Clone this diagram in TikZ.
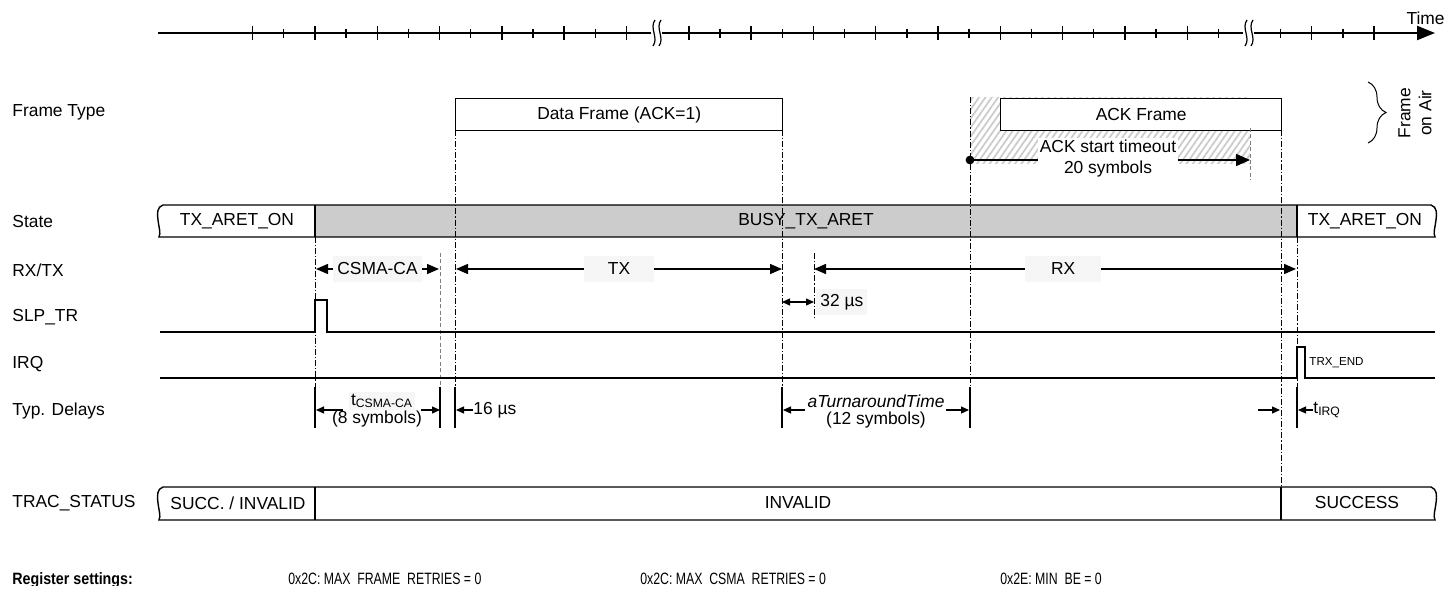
\documentclass[tikz,border=0pt]{standalone}
\usepackage{fontspec}
\setmainfont{Liberation Sans}
\usetikzlibrary{arrows.meta,patterns.meta,decorations.pathreplacing}

\tikzset{
  sig/.style={line width=0.7pt},
  bar/.style={line width=0.7pt},
  framebox/.style={draw, line width=0.7pt, fill=white, minimum height=16pt, anchor=north west, inner sep=0pt},
  guideline/.style={line width=0.4pt, dash pattern=on 3pt off 1pt on 0.6pt off 1pt},
  grayguide/.style={line width=0.5pt, gray, dash pattern=on 2pt off 1.2pt},
  tickline/.style={line width=0.7pt},
  spanarrow/.style={line width=0.7pt, <->},
  smallarrow/.style={line width=0.6pt, -{Triangle[length=4pt,width=3.5pt]}},
  tagbox/.style={fill=gray!7, inner sep=2pt, minimum height=13pt},
  rowname/.style={anchor=west, inner sep=0pt},
  regtext/.style={anchor=base west, inner sep=0pt, font=\fontsize{8.2}{9.8}\selectfont},
}

\begin{document}
\begin{tikzpicture}[x=0.5pt, y=-0.5pt, font=\fontsize{8.7}{10.5}\selectfont,
    >={Triangle[length=6pt,width=5pt]}]
  \useasboundingbox (0,0) rectangle (1451,589);

  % time axis
  \draw[line width=1.2pt, -{Triangle[length=9pt,width=7pt]}] (158,33) -- (1435,33);
  \foreach \tx in {252.6,314.9,...,627} \draw[tickline] (\tx,26) -- (\tx,40);
  \foreach \tx in {283.75,346.05,...,596} \draw[tickline] (\tx,28.5) -- (\tx,37.5);
  \foreach \tx in {688.8,751.1,...,1188} \draw[tickline] (\tx,26) -- (\tx,40);
  \foreach \tx in {719.95,782.25,...,1219} \draw[tickline] (\tx,28.5) -- (\tx,37.5);
  \foreach \tx in {1311.6,1373.9} \draw[tickline] (\tx,26) -- (\tx,40);
  \foreach \tx in {1280.5,1342.8} \draw[tickline] (\tx,28.5) -- (\tx,37.5);
  \foreach \bx in {657,1249} {
    \fill[white] (\bx-6,25) rectangle (\bx+5,41);
    \draw[line width=0.6pt] (\bx-2,20) .. controls (\bx-8,28) and (\bx+2,38) .. (\bx-4,46);
    \draw[line width=0.6pt] (\bx+4,20) .. controls (\bx-2,28) and (\bx+8,38) .. (\bx+2,46);
  }
  \node[anchor=south east, inner sep=1pt] (time) at (1447,27) {Time};

  % row names
  \node[rowname] (ftype) at (12,112) {Frame Type};
  \node[rowname] (state) at (12,222) {State};
  \node[rowname] (rxtx) at (12,270) {RX/TX};
  \node[rowname] (slptr) at (12,317) {SLP\_TR};
  \node[rowname] (irq) at (12,364) {IRQ};
  \node[rowname] (delays) at (12,411) {Typ. Delays};
  \node[rowname] (trac) at (12,503) {TRAC\_STATUS};

  % frames on air
  \fill[pattern={Lines[angle=55,distance=2.6pt,line width=0.9pt]}, pattern color=gray!40]
    (970,97) rectangle (1250,163);
  \node[framebox, minimum width=163.5pt] (dataf) at (455,98) {Data Frame (ACK=1)};
  \node[framebox, minimum width=140.5pt] (ackf) at (1000,98) {ACK Frame};
  \coordinate (tmoS) at (970,160);
  \coordinate (tmoE) at (1250,160);
  \draw[line width=0.7pt, -{Triangle[length=7pt,width=6pt]}] (tmoS) -- (tmoE);
  \fill (tmoS) circle (2.2pt);
  \node[fill=white, align=center, inner sep=1pt] (tmo) at (1108,159) {ACK start timeout\\20 symbols};
  \draw[decorate, decoration={brace, amplitude=9pt}, line width=0.5pt] (1368,82) -- (1368,143);
  \node[rotate=90, align=center] (air) at (1415,113) {Frame\\on Air};

  % state
  \fill[gray!40] (315,205) rectangle (1297,237);
  \draw[bar] (163,205) -- (1431,205) .. controls (1437,207) and (1437,213) .. (1436,220)
    .. controls (1435,228) and (1433,233) .. (1435,237) -- (159,237)
    .. controls (161,233) and (159,228) .. (158,220) .. controls (157,213) and (157,207) .. (163,205) -- cycle;
  \draw[bar] (315,205) -- (315,237);
  \draw[bar] (1297,205) -- (1297,237);
  \node (st1) at (237,221) {TX\_ARET\_ON};
  \node (st2) at (806,221) {BUSY\_TX\_ARET};
  \node (st3) at (1365,221) {TX\_ARET\_ON};

  % guide lines
  \draw[guideline] (315,237) -- (315,428);
  \draw[guideline] (455,130) -- (455,428);
  \draw[guideline] (782,130) -- (782,428);
  \draw[guideline] (814,253) -- (814,318);
  \draw[guideline] (970,97) -- (970,428);
  \draw[guideline] (1281,130) -- (1281,487);
  \draw[guideline] (1297,237) -- (1297,428);
  \draw[grayguide] (440,253) -- (440,428);
  \draw[grayguide] (1250,128) -- (1250,180);

  % rx/tx
  \coordinate (csS) at (316,269);
  \coordinate (csE) at (439,269);
  \draw[spanarrow] (csS) -- (csE) node[midway, tagbox] (csma) {CSMA-CA};
  \coordinate (txS) at (456,269);
  \coordinate (txE) at (782,269);
  \draw[spanarrow] (txS) -- (txE) node[midway, tagbox, minimum width=35pt] (txl) {TX};
  \coordinate (rxS) at (814,269);
  \coordinate (rxE) at (1296,269);
  \draw[spanarrow] (rxS) -- (rxE) node[pos=0.517, tagbox, minimum width=38pt] (rxl) {RX};
  \coordinate (d32S) at (782,302);
  \coordinate (d32E) at (814,302);
  \draw[line width=0.6pt, {Triangle[length=4pt,width=3.5pt]}-{Triangle[length=4pt,width=3.5pt]}] (d32S) -- (d32E);
  \node[tagbox, anchor=west] (d32) at (816,302) {32 µs};

  % signals
  \draw[sig] (160,332) -- (315,332) -- (315,300) -- (327,300) -- (327,332) -- (1435,332);
  \draw[sig] (160,378) -- (1297,378) -- (1297,347) -- (1305,347) -- (1305,378) -- (1435,378);
  \node[anchor=west, inner sep=0pt, font=\fontsize{5.8}{7}\selectfont] (trxend) at (1309,363) {TRX\_END};

  % delays
  \foreach \dx in {315,440,455,782,970,1297} \draw[line width=0.6pt] (\dx,387) -- (\dx,428);
  \coordinate (tcsA) at (343,410);
  \coordinate (tcsB) at (316,410);
  \coordinate (tcsC) at (421,410);
  \coordinate (tcsD) at (440,410);
  \draw[smallarrow] (tcsA) -- (tcsB);
  \draw[smallarrow] (tcsC) -- (tcsD);
  \node[tagbox, inner sep=1pt, minimum height=0pt] (tcs) at (382,401) {t\textsubscript{CSMA-CA}};
  \node (tcs8) at (377,419) {(8 symbols)};
  \coordinate (d16A) at (473,410);
  \coordinate (d16B) at (456,410);
  \draw[smallarrow] (d16A) -- (d16B);
  \node[anchor=west, inner sep=0pt] (d16) at (d16A) {16 µs};
  \coordinate (tatA) at (805,410);
  \coordinate (tatB) at (783,410);
  \coordinate (tatC) at (946,410);
  \coordinate (tatD) at (969,410);
  \draw[smallarrow] (tatA) -- (tatB);
  \draw[smallarrow] (tatC) -- (tatD);
  \node (tat) at (876,401) {\itshape aTurnaroundTime};
  \node (tat12) at (876,420) {(12 symbols)};
  \coordinate (tirqA) at (1258,410);
  \coordinate (tirqB) at (1280,410);
  \coordinate (tirqC) at (1313,410);
  \coordinate (tirqD) at (1298,410);
  \draw[smallarrow] (tirqA) -- (tirqB);
  \draw[smallarrow] (tirqC) -- (tirqD);
  \node[anchor=west, inner sep=0pt] (tirq) at (tirqC) {t\textsubscript{IRQ}};

  % trac status
  \draw[bar] (163,487) -- (1431,487) .. controls (1437,489) and (1437,495) .. (1436,503)
    .. controls (1435,511) and (1433,516) .. (1435,520) -- (159,520)
    .. controls (161,516) and (159,511) .. (158,503) .. controls (157,495) and (157,489) .. (163,487) -- cycle;
  \draw[bar] (315,487) -- (315,520);
  \draw[bar] (1281,487) -- (1281,520);
  \node (tr1) at (238,503) {SUCC. / INVALID};
  \node (tr2) at (798,503) {INVALID};
  \node (tr3) at (1357,503) {SUCCESS};

  % register settings
  \begin{scope}
    \clip (0,540) rectangle (1451,585);
    \node[regtext, xscale=0.87] (regs) at (12,584) {\bfseries Register settings:};
    \node[regtext, xscale=0.75] (reg1) at (288,584) {0x2C: MAX\_FRAME\_RETRIES = 0};
    \node[regtext, xscale=0.75] (reg2) at (640,584) {0x2C: MAX\_CSMA\_RETRIES = 0};
    \node[regtext, xscale=0.75] (reg3) at (1000,584) {0x2E: MIN\_BE = 0};
  \end{scope}
\end{tikzpicture}
\end{document}
